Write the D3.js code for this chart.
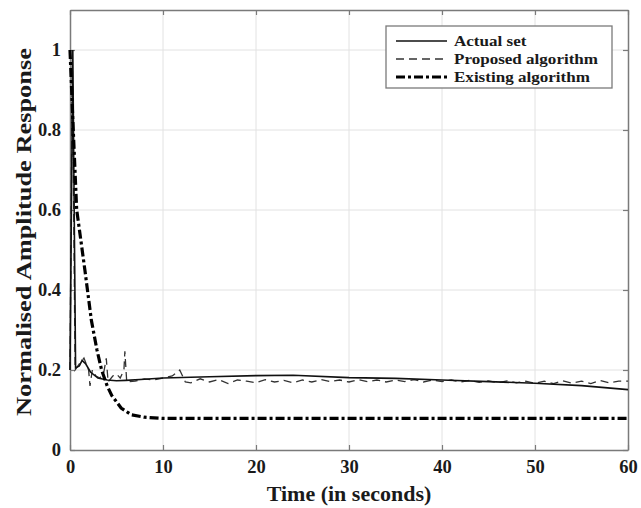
<!DOCTYPE html>
<html>
<head>
<meta charset="utf-8">
<script src="https://cdn.jsdelivr.net/npm/d3@7"></script>
<style>
  body { margin: 0; background: #fff; }
  text { font-family: "Liberation Serif", "DejaVu Serif", serif; font-weight: bold; }
</style>
</head>
<body>
<div id="chart"></div>
<script>
// Normalised amplitude response vs time

const xTicks = [0, 10, 20, 30, 40, 50, 60];
const yTicks = [0, 0.2, 0.4, 0.6, 0.8, 1];

const actualSet = [
  [0, 0.2], [0.3, 1.0], [0.6, 0.205], [1.0, 0.21], [1.3, 0.224], [1.7, 0.215],
  [2.2, 0.195], [3, 0.18], [4, 0.175], [5, 0.173], [6, 0.174], [8, 0.177],
  [10, 0.18], [15, 0.183], [20, 0.186], [24, 0.187], [30, 0.181], [35, 0.179],
  [40, 0.175], [45, 0.171], [50, 0.167], [55, 0.161], [60, 0.151]
];

const proposed = [
  [0, 0.2], [0.25, 0.98], [0.55, 0.2], [1.0, 0.215], [1.5, 0.23], [2.0, 0.2],
  [2.15, 0.16], [2.4, 0.2], [2.8, 0.185], [3.2, 0.18], [3.6, 0.19], [3.9, 0.229],
  [4.1, 0.17], [4.6, 0.185], [5.0, 0.19], [5.4, 0.18], [5.8, 0.2], [5.9, 0.247],
  [6.1, 0.17], [7, 0.172], [8, 0.178], [9, 0.175], [10, 0.18], [11, 0.185],
  [11.8, 0.2], [12.4, 0.17], [13, 0.168], [14, 0.178], [15, 0.17], [16, 0.176],
  [17, 0.166], [18, 0.175], [19, 0.172], [20, 0.168], [21, 0.176], [22, 0.17],
  [23, 0.174], [24, 0.168], [25, 0.175], [26, 0.17], [27, 0.176], [28, 0.171],
  [29, 0.175], [30, 0.17], [31, 0.176], [32, 0.171], [33, 0.175], [34, 0.17],
  [35, 0.175], [36, 0.171], [37, 0.176], [38, 0.17], [39, 0.175], [40, 0.171],
  [41, 0.175], [42, 0.17], [43, 0.174], [44, 0.169], [45, 0.173], [46, 0.168],
  [47, 0.173], [48, 0.168], [49, 0.172], [50, 0.167], [51, 0.172], [52, 0.166],
  [53, 0.173], [54, 0.167], [55, 0.172], [56, 0.166], [57, 0.174], [58, 0.168],
  [59, 0.172], [60, 0.172]
];

const existing = [
  [0, 1.0], [0.35, 0.8], [0.72, 0.6], [0.9, 0.57], [1.6, 0.45], [2.3, 0.324],
  [2.9, 0.25], [3.4, 0.2], [4.0, 0.16], [4.5, 0.136], [5.5, 0.105], [6.6, 0.088],
  [8, 0.082], [10, 0.079], [60, 0.079]
];

const legendLabels = ['Actual set', 'Proposed algorithm', 'Existing algorithm'];

const W = 641, H = 508;
const margin = { top: 10, right: 13, bottom: 58, left: 70 };

const svg = d3.select('#chart').append('svg')
  .attr('width', W).attr('height', H);

const x = d3.scaleLinear().domain([0, 60]).range([margin.left, W - margin.right]);
const y = d3.scaleLinear().domain([0, 1.1]).range([H - margin.bottom, margin.top]);

// grid
svg.append('g').selectAll('line.gx')
  .data(xTicks.slice(1, -1)).join('line')
  .attr('x1', d => x(d)).attr('x2', d => x(d))
  .attr('y1', y(0)).attr('y2', y(1.1))
  .attr('stroke', '#e2e2e2').attr('stroke-width', 1);
svg.append('g').selectAll('line.gy')
  .data(yTicks.slice(1)).join('line')
  .attr('x1', x(0)).attr('x2', x(60))
  .attr('y1', d => y(d)).attr('y2', d => y(d))
  .attr('stroke', '#e2e2e2').attr('stroke-width', 1);

// axes (MATLAB-style box, inward ticks)
const axisColor = '#7a7a7a';
const styleAxis = g => {
  g.select('.domain').attr('stroke', axisColor).attr('stroke-width', 1.5);
  g.selectAll('.tick line').attr('stroke', axisColor).attr('stroke-width', 1.2);
  g.selectAll('.tick text').attr('fill', '#1a1a1a').attr('font-size', '18.5px')
    .attr('font-family', '"Liberation Serif", serif').attr('font-weight', 'bold');
};

svg.append('g')
  .attr('transform', `translate(0,${y(0)})`)
  .call(d3.axisBottom(x).tickValues(xTicks).tickSize(-5).tickPadding(10).tickSizeOuter(0))
  .call(styleAxis);
svg.append('g')
  .attr('transform', `translate(0,${y(1.1)})`)
  .call(d3.axisTop(x).tickValues(xTicks).tickSize(-5).tickFormat('').tickSizeOuter(0))
  .call(styleAxis);
svg.append('g')
  .attr('transform', `translate(${x(0)},0)`)
  .call(d3.axisLeft(y).tickValues(yTicks).tickSize(-5).tickPadding(9).tickSizeOuter(0)
    .tickFormat(d => d === 0 ? '0' : d3.format('~g')(d)))
  .call(styleAxis);
svg.append('g')
  .attr('transform', `translate(${x(60)},0)`)
  .call(d3.axisRight(y).tickValues(yTicks).tickSize(-5).tickFormat('').tickSizeOuter(0))
  .call(styleAxis);

// lines
const line = d3.line().x(d => x(d[0])).y(d => y(d[1]));

svg.append('path').datum(proposed)
  .attr('d', line).attr('fill', 'none')
  .attr('stroke', '#333').attr('stroke-width', 1.3)
  .attr('stroke-dasharray', '8,5');

svg.append('path').datum(actualSet)
  .attr('d', line).attr('fill', 'none')
  .attr('stroke', '#111').attr('stroke-width', 1.6);

svg.append('path').datum(existing)
  .attr('d', line).attr('fill', 'none')
  .attr('stroke', '#000').attr('stroke-width', 3.2)
  .attr('stroke-dasharray', '9,3,3,3');

// legend
const lg = svg.append('g');
lg.append('rect')
  .attr('x', 386).attr('y', 26).attr('width', 226).attr('height', 62)
  .attr('fill', '#fff').attr('stroke', axisColor).attr('stroke-width', 1.3);
const styles = [
  { w: 1.6, dash: null, c: '#111' },
  { w: 1.3, dash: '8,5', c: '#333' },
  { w: 3.2, dash: '9,3,3,3', c: '#000' }
];
legendLabels.forEach((lab, i) => {
  const yy = 41 + i * 18;
  lg.append('line')
    .attr('x1', 396).attr('x2', 447).attr('y1', yy).attr('y2', yy)
    .attr('stroke', styles[i].c).attr('stroke-width', styles[i].w)
    .attr('stroke-dasharray', styles[i].dash);
  lg.append('text')
    .attr('transform', `translate(454,${yy + 5}) scale(1.1,1)`)
    .attr('font-size', '15.5px').attr('fill', '#1a1a1a')
    .text(lab);
});

// axis titles
svg.append('text')
  .attr('x', (x(0) + x(60)) / 2).attr('y', 501)
  .attr('text-anchor', 'middle').attr('font-size', '22px').attr('fill', '#1a1a1a')
  .text('Time (in seconds)');
svg.append('text')
  .attr('transform', `translate(31,${(y(0) + y(1.1)) / 2 + 2}) rotate(-90) scale(1.2,1)`)
  .attr('text-anchor', 'middle').attr('font-size', '22px').attr('fill', '#1a1a1a')
  .text('Normalised Amplitude Response');
</script>
</body>
</html>
